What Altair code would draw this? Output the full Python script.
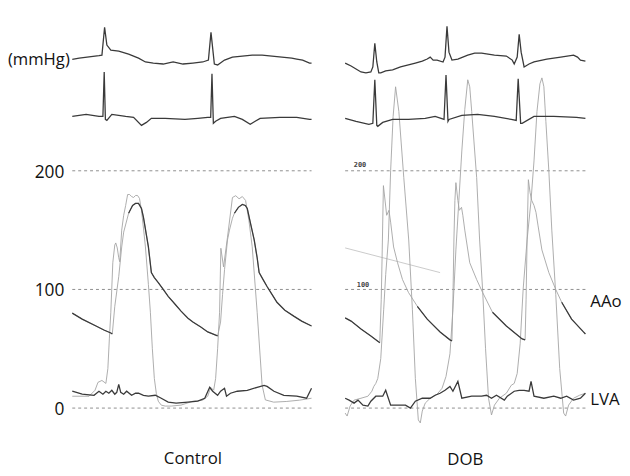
import altair as alt
import pandas as pd

# ---- time axis (ms within each panel); values in mmHg (ECG leads drawn at display offsets) ----
DOB_SHIFT = 1380  # ms between the start of the Control panel and the DOB panel

# ---------------- Control ----------------
ctrl_ecg1_t = [0, 35, 85, 135, 150, 163.5, 175, 195, 235, 285, 335, 370, 410, 460, 510, 560, 610, 660,
               688.5, 701.5, 718.5, 735, 770, 810, 860, 910, 960, 1010, 1060, 1110, 1135, 1165, 1200, 1210]
ctrl_ecg1_v = [294, 295, 296, 297, 297.5, 321, 306, 301.7, 300.8, 298.3, 295, 291.7, 290.8, 290, 291.7, 290,
               290.8, 291.7, 293.3, 316.7, 290, 289.2, 293.3, 295.8, 296.7, 297.5, 297.5, 296.7, 295.8, 295,
               294.2, 293.3, 290.8, 290.8]

ctrl_ecg2_t = [0, 70, 135, 155, 161.5, 167.5, 175, 200, 270, 310, 350, 375, 400, 470, 570, 635, 685, 700,
               706.5, 713.5, 725, 750, 820, 860, 900, 925, 950, 1050, 1135, 1200, 1210]
ctrl_ecg2_v = [245.8, 247.5, 245.8, 245.8, 283.3, 243.3, 242.5, 247.5, 245.8, 245, 238.3, 240.8, 244.2,
               244.2, 243.3, 244.2, 245, 245, 281.7, 240, 241.7, 244.2, 245.8, 243.3, 239.2, 241.7, 244.2,
               245, 245, 243.3, 243.3]

ctrl_aao_t = [0, 50, 120, 160, 195, 202.5, 215, 235, 250, 260, 285, 305, 320, 335, 350, 360, 375, 385, 400,
              415, 435, 460, 485, 520, 550, 585, 610, 650, 685, 710, 735, 750, 760, 770, 785, 795, 810, 820,
              840, 860, 875, 885, 900, 920, 935, 945, 965, 985, 1010, 1035, 1075, 1120, 1160, 1210]
ctrl_aao_v = [80, 75, 69.2, 65.8, 63.3, 62.5, 85.8, 110.8, 135.8, 148.3, 164.2, 170.8, 172.5, 172.5, 168.3,
              160.8, 145.8, 135.8, 114.2, 110, 105.8, 100, 94.2, 87.5, 81.7, 75.8, 72.5, 68.3, 64.2, 62.5,
              60.8, 72.5, 95.8, 116.7, 141.7, 150, 160, 164.2, 169.2, 171.7, 170.8, 168.3, 156.7, 141.7,
              126.7, 114.2, 108.3, 102.5, 95.8, 89.2, 82.5, 77.5, 73.3, 69.2]
ctrl_aao_fast = [(205, 285), (745, 820)]

ctrl_lvp_t = [0, 85, 115, 130, 150, 170, 180, 187.5, 195, 205, 215, 220, 227.5, 235, 240, 250, 260, 270, 280,
              290, 300, 310, 320, 330, 340, 350, 360, 370, 385, 395, 405, 415, 425, 435, 450, 470, 500, 550,
              610, 660, 685, 700, 715, 725, 735, 745, 751.5, 765, 785, 810, 826.5, 843.5, 860, 876.5, 893.5,
              910, 935, 960, 976.5, 1018.5, 1085, 1150, 1210]
ctrl_lvp_v = [10, 10, 15, 21.7, 23.3, 20.8, 33.3, 58.3, 80.8, 122.5, 137.5, 139.2, 135, 126.7, 123.3, 150,
              162.5, 170.8, 180, 180, 178.3, 177.5, 179.2, 179.2, 176.7, 166.7, 151.7, 135.8, 104.2, 80.8,
              50, 25, 12.5, 5.8, 2.5, 1.7, 1.7, 2.5, 5.8, 6.7, 10, 17.5, 15, 25, 50, 80.8, 134.7, 119, 144,
              177.5, 179, 176.4, 178.3, 175, 158, 136, 80.8, 19.4, 6.9, 5, 5.6, 6.7, 8.3]

ctrl_lva_t = [0, 50, 110, 135, 155, 170, 185, 200, 215, 225, 235, 245, 260, 275, 300, 320, 335, 360, 385,
              420, 450, 485, 525, 585, 635, 670, 695, 710, 735, 750, 770, 780, 800, 835, 885, 935, 970, 985,
              1020, 1070, 1135, 1185, 1210]
ctrl_lva_v = [14.2, 11.7, 10.8, 14.2, 11.7, 14.2, 12.5, 15, 11.7, 13.3, 20, 13.3, 11.7, 14.2, 10.8, 12.5,
              12.5, 10.8, 10, 10.8, 8.3, 5, 4.2, 5, 5.8, 8.3, 17.5, 14.2, 10.8, 14.2, 16.7, 10, 12.5, 14.2,
              15, 17.5, 19.2, 18.3, 14.2, 10.8, 10, 8.3, 16.7]

# ---------------- DOB ----------------
dob_ecg1_t = [0, 30, 55, 80, 105, 130, 140, 150, 160, 170, 180, 205, 240, 280, 320, 355, 390, 415, 430, 445,
              465, 495, 505, 515, 525, 540, 570, 620, 655, 690, 755, 815, 845, 855, 870, 880, 890, 905, 930,
              955, 1020, 1090, 1155, 1175, 1190, 1215]
dob_ecg1_v = [290.8, 288.3, 285.8, 283.3, 282.5, 283.3, 287.5, 307.5, 291.7, 282.5, 282.5, 284.2, 285,
              287.5, 289.2, 290.8, 292.5, 294.2, 295.8, 293.3, 293.3, 291.7, 295.8, 321.7, 300, 293.3,
              294.2, 297.5, 299.2, 299.2, 297.5, 296.7, 293.3, 290, 295.8, 315, 300, 287.5, 290, 291.7,
              294.2, 295.8, 297.5, 295.8, 293.3, 292.5]

dob_ecg2_t = [0, 55, 120, 140, 150, 160, 165, 190, 240, 320, 405, 455, 485, 500, 510, 520, 525, 590, 670,
              755, 840, 865, 875, 887.5, 895, 955, 1055, 1170, 1215]
dob_ecg2_v = [244.2, 241.7, 239.2, 240, 276.7, 238.3, 237.5, 240.8, 243.3, 243.3, 244.2, 245.8, 244.2,
              243.3, 280.8, 241.7, 243.3, 246.7, 247.5, 245.8, 243.3, 242.5, 277.5, 240, 240, 245.8, 245.8,
              245, 244.2]

dob_aao_t = [0, 30, 80, 130, 170, 175, 182.5, 187.5, 193.5, 210, 221.5, 230, 245, 265, 290, 320, 365, 415,
             480, 530, 540, 545, 550, 555, 560, 570, 577.5, 588.5, 595, 605, 630, 665, 695, 745, 815, 895,
             910, 915, 920, 926.5, 935, 943.5, 955, 965, 975, 995, 1030, 1065, 1095, 1145, 1205, 1215]
dob_aao_v = [76, 73.3, 66.7, 60.8, 55.8, 55, 91.7, 133.3, 187.5, 162.5, 166.7, 156.7, 135.8, 122.5, 108.3,
             97.5, 85.8, 75, 64.2, 57.5, 56.7, 91.7, 141.7, 175, 190, 175, 166.7, 169.2, 162.5, 150, 122.5,
             108.3, 97.5, 80.8, 69.2, 58.3, 57.5, 91.7, 141.7, 192.5, 181.7, 175, 170.8, 165, 154.2, 133.3,
             114.2, 100, 89.2, 75, 64.2, 62.5]
dob_aao_fast = [(178, 330), (543, 700), (912, 1070)]

dob_lvp_t = [0, 10, 25, 45, 80, 115, 135, 145, 155, 165, 180, 195, 205, 218.5, 230, 242.5, 255, 271.5,
             296.5, 321.5, 340, 355, 370, 380, 390, 405, 430, 465, 490, 510, 530, 545, 560, 575, 590, 605,
             620, 630, 640, 665, 680, 695, 710, 725, 740, 755, 780, 815, 840, 855, 870, 885, 900, 920, 940,
             955, 970, 985, 995, 1005, 1015, 1030, 1045, 1065, 1085, 1105, 1115, 1130, 1155, 1185, 1215]
dob_lvp_v = [-4.2, -6.7, 1.7, 6.7, 8.3, 10, 14.2, 18.3, 20.8, 25, 41.7, 83.3, 112.5, 141.7, 200, 245.8,
             270.8, 250, 194.2, 141.7, 83.3, 25, -10, -12.5, -2.5, 4.2, 8.3, 11.7, 16.7, 26.7, 45.8, 83.3,
             133.3, 175, 216.7, 251.7, 276.7, 270.8, 250, 194.2, 141.7, 100, 50, 8.3, -5.8, 2.5, 8.3, 12.5,
             19.2, 20.8, 29.2, 54.2, 100, 141.7, 175, 208.3, 250, 273.3, 278.3, 270.8, 241.7, 200, 150,
             95.8, 33.3, -4.2, -6.7, 2.5, 8.3, 10.8, 12.5]

dob_lva_t = [0, 20, 45, 65, 90, 115, 130, 155, 190, 205, 215, 230, 270, 305, 330, 355, 390, 430, 455, 480,
             505, 530, 545, 570, 590, 640, 690, 715, 740, 765, 805, 820, 855, 880, 905, 930, 940, 955, 1005,
             1055, 1090, 1120, 1155, 1190, 1215]
dob_lva_v = [8.3, 6.7, 4.2, 6.7, 2.5, 1.7, 5.8, 10, 10, 15, 10, 2.5, 2.5, 2.5, 0, 5.8, 8.3, 8.3, 10.8, 12.5,
             15, 18.3, 14.2, 22.5, 8.3, 10, 10, 10.8, 8.3, 10.8, 6.7, 10, 14.2, 15, 15, 14.2, 22.5, 10, 8.3,
             10, 8.3, 10, 6.7, 8.3, 12.5]

dob_stray_t = [0, 480]
dob_stray_v = [135, 114.2]

# ---------------- labels / grid ----------------
grid_values = [0, 100, 200]
panel_ranges = [(0, 1210), (DOB_SHIFT, DOB_SHIFT + 1215)]
tick_labels = ["0", "100", "200"]
panel_titles = ["Control", "DOB"]
trace_labels = ["AAo", "LVA"]

rows = []


def add(name, t, v, shift, layer):
    for i, (a, b) in enumerate(zip(t, v)):
        rows.append({"x": a + shift, "y": b, "series": name, "layer": layer, "i": i})


def add_split(name, t, v, shift, fast):
    add(name + "_all", t, v, shift, "light")
    run, prev_dark = 0, False
    for i, (a, b) in enumerate(zip(t, v)):
        dark = not any(lo < a < hi for lo, hi in fast)
        if dark:
            if not prev_dark:
                run += 1
            rows.append({"x": a + shift, "y": b, "series": f"{name}_d{run}", "layer": "dark", "i": i})
        prev_dark = dark


add("c_ecg1", ctrl_ecg1_t, ctrl_ecg1_v, 0, "dark")
add("c_ecg2", ctrl_ecg2_t, ctrl_ecg2_v, 0, "dark")
add("c_lvp", ctrl_lvp_t, ctrl_lvp_v, 0, "light")
add("c_lva", ctrl_lva_t, ctrl_lva_v, 0, "dark")
add_split("c_aao", ctrl_aao_t, ctrl_aao_v, 0, ctrl_aao_fast)

add("d_ecg1", dob_ecg1_t, dob_ecg1_v, DOB_SHIFT, "dark")
add("d_ecg2", dob_ecg2_t, dob_ecg2_v, DOB_SHIFT, "dark")
add("d_lvp", dob_lvp_t, dob_lvp_v, DOB_SHIFT, "light")
add("d_lva", dob_lva_t, dob_lva_v, DOB_SHIFT, "dark")
add("d_stray", dob_stray_t, dob_stray_v, DOB_SHIFT, "faint")
add_split("d_aao", dob_aao_t, dob_aao_v, DOB_SHIFT, dob_aao_fast)

df = pd.DataFrame(rows)

grid_df = pd.DataFrame([{"x": lo, "x2": hi, "y": g} for lo, hi in panel_ranges for g in grid_values])

tick_df = pd.DataFrame({"x": [-40] * 3, "y": grid_values, "text": tick_labels})
unit_df = pd.DataFrame({"x": [-12.5], "y": [293.3], "text": ["(mmHg)"]})
title_df = pd.DataFrame({"x": [610, 1987.5], "y": [-43.3, -44.2], "text": panel_titles})
trace_df = pd.DataFrame({"x": [2620, 2620], "y": [89.2, 6.7], "text": trace_labels})
small_df = pd.DataFrame({"x": [DOB_SHIFT + 75, DOB_SHIFT + 90], "y": [205, 104], "text": ["200", "100"]})

xs = alt.Scale(domain=[-325, 2745], nice=False, zero=False)
ys = alt.Scale(domain=[-48.33, 335], nice=False, zero=False)
X = alt.X("x:Q", scale=xs, axis=None)
Y = alt.Y("y:Q", scale=ys, axis=None)

base = alt.Chart(df)

grid = alt.Chart(grid_df).mark_rule(color="#8f8f8f", strokeWidth=1, strokeDash=[3, 3]).encode(
    x=X, x2="x2:Q", y=Y)

faint = base.transform_filter(alt.datum.layer == "faint").mark_line(
    color="#c4c4c4", strokeWidth=0.9).encode(x=X, y=Y, detail="series:N", order="i:Q")
light = base.transform_filter(alt.datum.layer == "light").mark_line(
    color="#a4a4a4", strokeWidth=0.9).encode(x=X, y=Y, detail="series:N", order="i:Q")
dark = base.transform_filter(alt.datum.layer == "dark").mark_line(
    color="#3a3a3a", strokeWidth=1.3).encode(x=X, y=Y, detail="series:N", order="i:Q")

FONT = "Open Sans"
ticks = alt.Chart(tick_df).mark_text(font=FONT, fontSize=17.5, align="right", baseline="middle", dy=2,
                                     color="#111").encode(x=X, y=Y, text="text:N")
unit = alt.Chart(unit_df).mark_text(font=FONT, fontSize=16.8, align="right", baseline="middle",
                                    color="#111").encode(x=X, y=Y, text="text:N")
titles = alt.Chart(title_df).mark_text(font=FONT, fontSize=17, align="center", baseline="middle",
                                       color="#111").encode(x=X, y=Y, text="text:N")
traces = alt.Chart(trace_df).mark_text(font=FONT, fontSize=17, align="left", baseline="middle",
                                       color="#111").encode(x=X, y=Y, text="text:N")
small = alt.Chart(small_df).mark_text(font="DejaVu Sans Mono", fontSize=7, fontWeight="bold",
                                      align="center", baseline="middle", color="#444").encode(
    x=X, y=Y, text="text:N")

chart = alt.layer(grid, faint, light, dark, ticks, unit, titles, traces, small).properties(
    width=614, height=460, padding=0, background="white"
).configure_view(stroke=None)

chart.save("out.html", embed_options={"renderer": "svg", "actions": False})
